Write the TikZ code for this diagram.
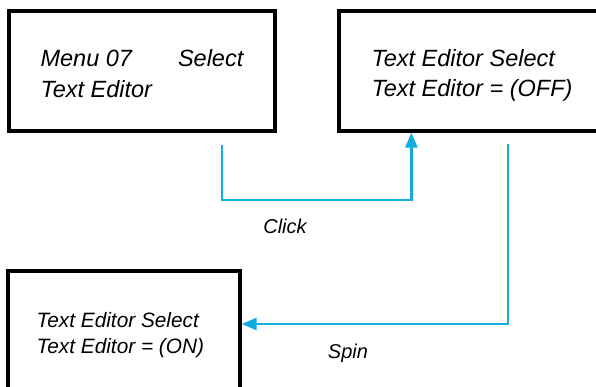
\documentclass[tikz,border=0pt]{standalone}
\usepackage{fontspec}
\setmainfont{Liberation Sans}
\usetikzlibrary{arrows.meta,positioning}

\definecolor{flowblue}{RGB}{18,172,224}

\tikzset{
	screen/.style={draw, line width=3.2pt, inner sep=0pt},
	screentext/.style={align=left, inner sep=0pt, font=\itshape\fontsize{23.5}{30.5}\selectfont},
	flow/.style={draw=flowblue, line width=2.6pt, -{Triangle[length=15pt, width=12pt]}},
	flowlabel/.style={inner sep=0pt, font=\itshape\fontsize{20}{24}\selectfont}
}

\begin{document}
\begin{tikzpicture}[x=1pt, y=-1pt]
	\useasboundingbox (0,0) rectangle (596,387);
	\clip (0,0) rectangle (596,387);

	\node[screen, minimum width=266pt, minimum height=120pt] (menu) at (142,71) {};
	\node[screen, minimum width=261pt, minimum height=120pt] (off) at (469.5,71) {};
	\node[screen, minimum width=232pt, minimum height=121pt] (on) at (124,331.5) {};

	\node[screentext, right=33pt of menu.west, yshift=-2.5pt] (menutext) {Menu 07\hspace{46pt}Select\\Text Editor};
	\node[screentext, right=34pt of off.west, yshift=-4.5pt] (offtext) {Text Editor Select\\Text Editor = (OFF)};
	\node[screentext, font=\itshape\fontsize{20.8}{26}\selectfont, right=30pt of on.west, yshift=-3.2pt] (ontext) {Text Editor Select\\Text Editor = (ON)};

	\coordinate (clickstart) at (222,145);
	\coordinate (clickturn) at (222,200);
	\coordinate (spinstart) at (508,144);
	\coordinate (spinturn) at (508,324);

	\path[flow] (clickstart) -- (clickturn) -| ([xshift=74pt]off.south west);
	\path[flow] (spinstart) -- (spinturn) -- (spinturn -| on.east);

	\node[flowlabel] (click) at (285,226) {Click};
	\node[flowlabel] (spin) at (348,353) {Spin};
\end{tikzpicture}
\end{document}
